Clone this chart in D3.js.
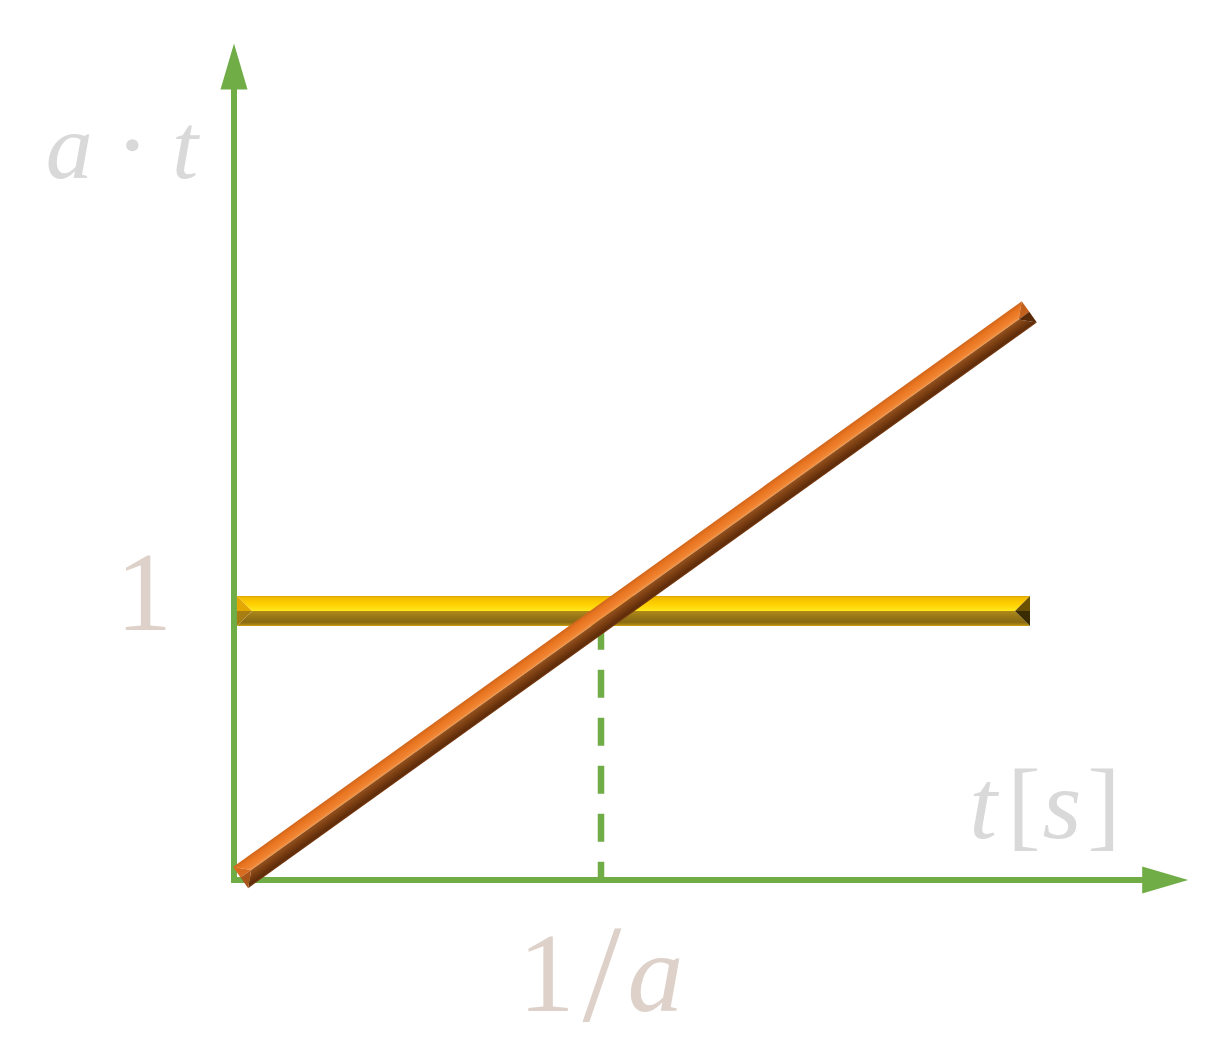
<!DOCTYPE html>
<html>
<head>
<meta charset="utf-8">
<script src="https://cdn.jsdelivr.net/npm/d3@7"></script>
<style>
  html, body { margin: 0; padding: 0; background: #ffffff; }
  svg { display: block; }
</style>
</head>
<body>
<svg id="chart" width="1231" height="1059"></svg>
<script>
// ---- data ----
const xDomain = [0, 1];            // 1/a maps to 1
const yDomain = [0, 1];            // "1" maps to 1
const xAxisEnd = 2.6;              // end of x arrow (units of 1/a)
const yAxisEnd = 3.11;             // end of y arrow
const xTickValues = [1];
const xTickLabels = ["1/a"];
const yTickValues = [1];
const yTickLabels = ["1"];
const constantSeries = [[0.008, 1], [2.169, 1]];      // a·t = 1 (yellow)
const linearSeries   = [[0.018, 0.009], [2.167, 2.112]]; // a·t grows (orange)
const dropLine       = [[1, 0.96], [1, 0]];           // dashed marker at 1/a
const xAxisTitle = "t[s]";
const yAxisTitle = "a · t";

// ---- scales ----
const x = d3.scaleLinear().domain(xDomain).range([234, 601]);
const y = d3.scaleLinear().domain(yDomain).range([880, 611]);

const svg = d3.select("#chart");
const defs = svg.append("defs");
const green = "#70AD47";

// ---- beveled bar helper ----
let gid = 0;
function beveledBar(p0, p1, thick, pal) {
  const dx = p1[0] - p0[0], dy = p1[1] - p0[1];
  const len = Math.hypot(dx, dy);
  const u = [dx / len, dy / len];
  let n = [u[1], -u[0]];
  if (n[1] > 0) n = [-n[0], -n[1]];
  const h = thick / 2;
  const add = (p, v, s) => [p[0] + v[0] * s, p[1] + v[1] * s];
  const A = add(p0, n, h), B = add(p1, n, h), C = add(p1, n, -h), D = add(p0, n, -h);
  const R0 = add(p0, u, h), R1 = add(p1, u, -h);
  const g = svg.append("g");
  function grad(from, to, stops) {
    const id = "g" + (gid++);
    const lg = defs.append("linearGradient").attr("id", id)
      .attr("gradientUnits", "userSpaceOnUse")
      .attr("x1", from[0]).attr("y1", from[1]).attr("x2", to[0]).attr("y2", to[1]);
    stops.forEach(s => lg.append("stop").attr("offset", s[0]).attr("stop-color", s[1]));
    return "url(#" + id + ")";
  }
  const poly = pts => "M" + pts.map(p => p.join(",")).join("L") + "Z";
  g.append("path").attr("d", poly([A, B, R1, R0]))
    .attr("fill", grad(add(p0, n, h), p0, pal.top));
  g.append("path").attr("d", poly([D, C, R1, R0]))
    .attr("fill", grad(p0, add(p0, n, -h), pal.bottom));
  g.append("path").attr("d", poly([A, R0, p0])).attr("fill", pal.startUp);
  g.append("path").attr("d", poly([D, R0, p0])).attr("fill", pal.startDown);
  g.append("path").attr("d", poly([B, R1, p1])).attr("fill", pal.endUp);
  g.append("path").attr("d", poly([C, R1, p1])).attr("fill", pal.endDown);
  return g;
}

// ---- dashed drop line ----
svg.append("path")
  .datum(dropLine)
  .attr("d", d3.line().x(d => x(d[0])).y(d => y(d[1])))
  .attr("stroke", green).attr("stroke-width", 6.5)
  .attr("stroke-dasharray", "28,20").attr("fill", "none");

// ---- axes ----
const axes = svg.append("g");
axes.append("line")
  .attr("x1", x(0)).attr("y1", y(0)).attr("x2", x(0)).attr("y2", y(yAxisEnd) + 44)
  .attr("stroke", green).attr("stroke-width", 6);
axes.append("path")
  .attr("d", `M${x(0)},${y(yAxisEnd)} L${x(0) + 13.5},${y(yAxisEnd) + 46} L${x(0) - 13.5},${y(yAxisEnd) + 46} Z`)
  .attr("fill", green);
axes.append("line")
  .attr("x1", x(0) - 3).attr("y1", y(0)).attr("x2", x(xAxisEnd) - 44).attr("y2", y(0))
  .attr("stroke", green).attr("stroke-width", 6);
axes.append("path")
  .attr("d", `M${x(xAxisEnd)},${y(0)} L${x(xAxisEnd) - 46},${y(0) - 13.5} L${x(xAxisEnd) - 46},${y(0) + 13.5} Z`)
  .attr("fill", green);

// ---- bars ----
beveledBar(
  [x(constantSeries[0][0]), y(constantSeries[0][1])],
  [x(constantSeries[1][0]), y(constantSeries[1][1])],
  30,
  {
    top: [[0, "#D9A200"], [0.12, "#F2BC00"], [0.5, "#FFCE00"], [1, "#FFE81C"]],
    bottom: [[0, "#B08A18"], [0.35, "#9A7818"], [0.75, "#8A6A12"], [0.9, "#A88414"], [1, "#D2A40C"]],
    startUp: "#E2A800", startDown: "#A77E12",
    endUp: "#6A5000", endDown: "#3A2C00"
  }
);

beveledBar(
  [x(linearSeries[0][0]), y(linearSeries[0][1])],
  [x(linearSeries[1][0]), y(linearSeries[1][1])],
  26,
  {
    top: [[0, "#D0661C"], [0.3, "#E8741F"], [0.8, "#F08432"], [1, "#F39A4C"]],
    bottom: [[0, "#93511E"], [0.4, "#7C3F12"], [0.85, "#5E2C0A"], [1, "#7A3A10"]],
    startUp: "#D86C1E", startDown: "#A9551A",
    endUp: "#C2601C", endDown: "#5A2A08"
  }
);

// ---- labels ----
const mathFont = "'Liberation Serif', 'DejaVu Serif', serif";

// y axis title
const yt = svg.append("text")
  .attr("x", 122).attr("y", 178).attr("text-anchor", "middle")
  .attr("font-family", mathFont).attr("font-size", 94).attr("fill", "#D9D9D9");
yt.append("tspan").attr("font-style", "italic").text("a");
yt.append("tspan").text(" \u22C5 ");
yt.append("tspan").attr("font-style", "italic").text("t");

// x axis title
const xt = svg.append("text")
  .attr("x", 1045).attr("y", 838).attr("text-anchor", "middle")
  .attr("font-family", mathFont).attr("font-size", 100).attr("fill", "#D9D9D9");
xt.append("tspan").attr("font-style", "italic").text("t");
xt.append("tspan").attr("dx", 10).text("[");
xt.append("tspan").attr("font-style", "italic").attr("dx", 2).text("s");
xt.append("tspan").attr("dx", 6).text("]");

// y tick
svg.selectAll("text.ytick").data(yTickValues).enter().append("text")
  .attr("class", "ytick")
  .attr("x", 144).attr("y", d => y(d) + 19).attr("text-anchor", "middle")
  .attr("font-family", mathFont).attr("font-size", 112).attr("fill", "#DDD1C9")
  .text((d, i) => yTickLabels[i]);

// x tick
svg.selectAll("text.xtick").data(xTickValues).enter().append("text")
  .attr("class", "xtick")
  .attr("x", d => x(d)).attr("y", 1011).attr("text-anchor", "middle")
  .attr("font-family", mathFont).attr("font-size", 112).attr("fill", "#DDD1C9")
  .each(function(d, i) {
    const t = d3.select(this);
    const lbl = xTickLabels[i];
    t.append("tspan").text(lbl.slice(0, 1));
    t.append("tspan").attr("dx", 8).attr("font-size", 140).attr("dy", 10).text(lbl.slice(1, 2));
    t.append("tspan").attr("dx", 6).attr("dy", -10).attr("font-style", "italic").text(lbl.slice(2));
  });
</script>
</body>
</html>
